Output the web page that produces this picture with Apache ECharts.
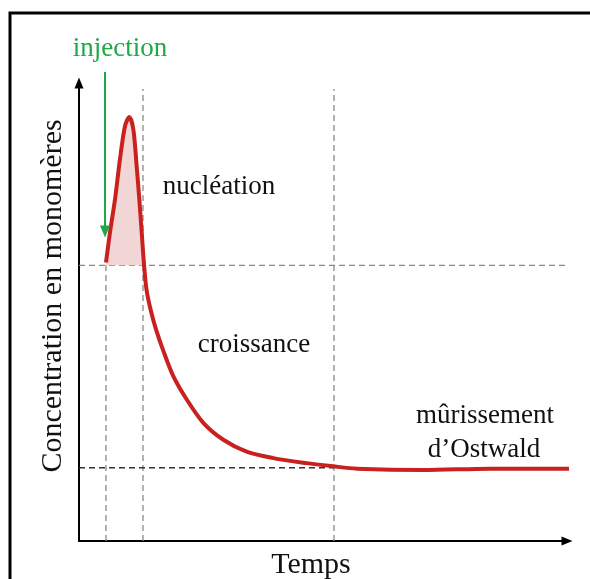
<!DOCTYPE html>
<html>
<head>
<meta charset="utf-8">
<script src="https://cdn.jsdelivr.net/npm/echarts@6/dist/echarts.min.js"></script>
<style>
  html, body { margin: 0; padding: 0; background: #fff; }
  #chart { width: 590px; height: 579px; }
</style>
</head>
<body>
<div id="chart"></div>
<script>
// monomer concentration vs time (arbitrary units, 0-100 on both axes)
const curveTime = [5.53, 6.35, 7.38, 8.40, 9.43, 10.31, 11.13, 11.82, 12.36, 12.85, 13.32,
    13.83, 14.65, 15.78, 17.32, 19.32, 22.07, 25.47, 29.57, 34.36, 39.82, 46.66, 52.11, 56.97, 70.49, 84.22, 101.0];
const curveConc = [60.8, 67.4, 74.6, 83.4, 90.6, 92.6, 89.9, 81.8, 74.6, 67.4, 60.4,
    54.9, 50.6, 46.2, 41.4, 36.0, 30.9, 25.8, 22.1, 19.5, 18.1, 17.0, 16.3, 15.8, 15.5, 15.8, 15.8];
const peakCount = 11; // points of the nucleation burst (above the nucleation threshold)

const phaseTimes = [5.53, 13.11, 52.25]; // injection, end of nucleation, end of growth
const nucleationLevel = 60.2;
const solubilityLevel = 16;
const guideTop = 98.7;
const injectionArrow = [102.4, 67.6];

const chartTexts = {
    injection: 'injection',
    nucleation: 'nucléation',
    growth: 'croissance',
    ripening: ['mûrissement', 'd’Ostwald'],
    xName: 'Temps',
    yName: 'Concentration en monomères'
};

const serif = '"Liberation Serif", "DejaVu Serif", serif';

function pairs(xs, ys) {
    return xs.map((x, i) => [x, ys[i]]);
}

function guide(points, color, width) {
    return {
        type: 'line',
        data: points,
        symbol: 'none',
        silent: true,
        z: 1,
        lineStyle: { color: color, width: width, type: [6, 4] }
    };
}

const curve = pairs(curveTime, curveConc);

const chart = echarts.init(document.getElementById('chart'));
chart.setOption({
    animation: false,
    grid: { left: 79, right: 23, top: 83, bottom: 38 },
    xAxis: {
        type: 'value', min: 0, max: 100,
        axisLine: { symbol: ['none', 'triangle'], symbolSize: [9, 11], lineStyle: { color: '#000', width: 2 } },
        axisTick: { show: false }, axisLabel: { show: false }, splitLine: { show: false }
    },
    yAxis: {
        type: 'value', min: 0, max: 100,
        axisLine: { symbol: ['none', 'triangle'], symbolSize: [9, 11], lineStyle: { color: '#000', width: 2 } },
        axisTick: { show: false }, axisLabel: { show: false }, splitLine: { show: false }
    },
    series: [
        guide([[phaseTimes[0], 0], [phaseTimes[0], nucleationLevel]], '#888', 1.3),
        guide([[phaseTimes[1], 0], [phaseTimes[1], guideTop]], '#888', 1.3),
        guide([[phaseTimes[2], 0], [phaseTimes[2], guideTop]], '#888', 1.3),
        guide([[0, nucleationLevel], [100, nucleationLevel]], '#888', 1.3),
        guide([[0, solubilityLevel], [phaseTimes[2], solubilityLevel]], '#333', 1.6),
        {
            // shaded nucleation burst
            type: 'line',
            data: curve.slice(0, peakCount),
            smooth: 0.3,
            symbol: 'none',
            silent: true,
            z: 2,
            lineStyle: { width: 0 },
            areaStyle: { color: '#f2d5d5', opacity: 1, origin: nucleationLevel }
        },
        {
            type: 'line',
            data: curve,
            smooth: 0.3,
            symbol: 'none',
            clip: false,
            z: 3,
            lineStyle: { color: '#c9211e', width: 4 }
        },
        {
            // injection arrow
            type: 'line',
            clip: false,
            z: 4,
            silent: true,
            data: [
                { value: [phaseTimes[0] - 0.2, injectionArrow[0]], symbol: 'none' },
                { value: [phaseTimes[0] - 0.2, injectionArrow[1]], symbol: 'triangle', symbolRotate: 180, symbolSize: [10, 12] }
            ],
            showSymbol: true,
            itemStyle: { color: '#1ea84a' },
            lineStyle: { color: '#1ea84a', width: 2 }
        }
    ],
    graphic: [
        { type: 'rect', shape: { x: 10, y: 13, width: 620, height: 620 }, style: { fill: 'none', stroke: '#000', lineWidth: 3 }, silent: true },
        { type: 'text', x: 120, y: 49, style: { text: chartTexts.injection, font: '27px ' + serif, fill: '#1ea84a', align: 'center', verticalAlign: 'middle' } },
        { type: 'text', x: 219, y: 187, style: { text: chartTexts.nucleation, font: '27px ' + serif, fill: '#111', align: 'center', verticalAlign: 'middle' } },
        { type: 'text', x: 254, y: 345, style: { text: chartTexts.growth, font: '27px ' + serif, fill: '#111', align: 'center', verticalAlign: 'middle' } },
        { type: 'text', x: 485, y: 416, style: { text: chartTexts.ripening[0], font: '27px ' + serif, fill: '#111', align: 'center', verticalAlign: 'middle' } },
        { type: 'text', x: 484, y: 450, style: { text: chartTexts.ripening[1], font: '27px ' + serif, fill: '#111', align: 'center', verticalAlign: 'middle' } },
        { type: 'text', x: 311, y: 565, style: { text: chartTexts.xName, font: '30px ' + serif, fill: '#111', align: 'center', verticalAlign: 'middle' } },
        { type: 'text', x: 53, y: 296, rotation: Math.PI / 2, style: { text: chartTexts.yName, font: '30px ' + serif, fill: '#111', align: 'center', verticalAlign: 'middle' } }
    ]
});
</script>
</body>
</html>
